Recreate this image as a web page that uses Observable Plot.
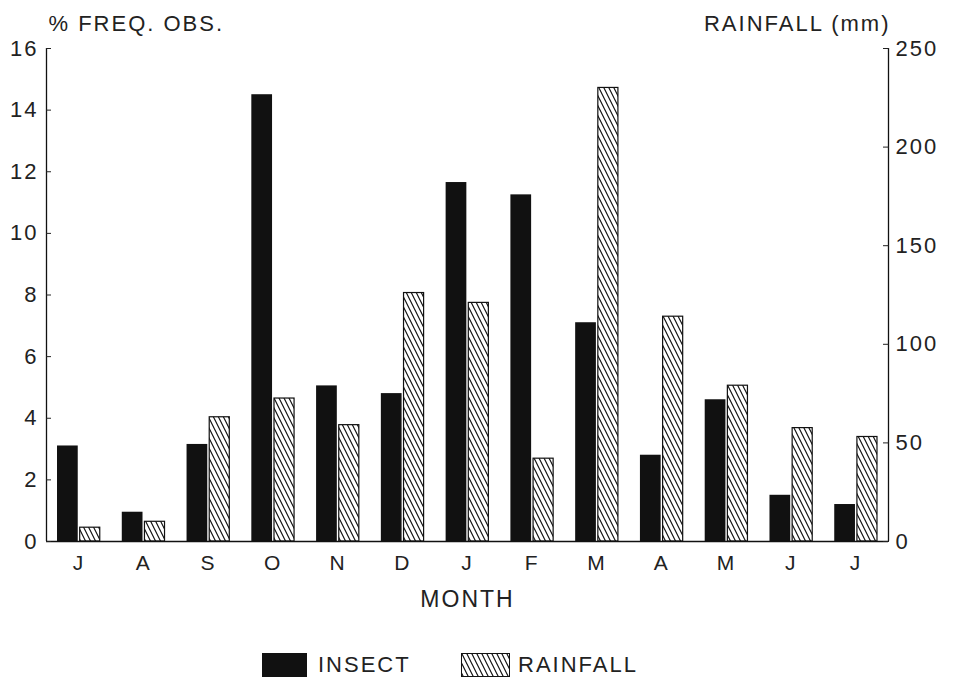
<!DOCTYPE html>
<html>
<head>
<meta charset="utf-8">
<script src="https://cdn.jsdelivr.net/npm/d3@7"></script>
<script src="https://cdn.jsdelivr.net/npm/@observablehq/plot@0.6"></script>
<style>
  html, body { margin: 0; padding: 0; background: #fff; }
  body { width: 953px; height: 686px; overflow: hidden; font-family: "Liberation Sans", Arial, sans-serif; color: #222; }
  #chart svg { display: block; }
  #legend { position: relative; height: 61px; }
  .sw { position: absolute; top: 28px; height: 24px; box-sizing: border-box; border: 1px solid #111; }
  .lt { position: absolute; top: 26px; font-size: 22px; letter-spacing: 2px; line-height: 28px; }
</style>
</head>
<body>
<svg width="0" height="0" style="position:absolute">
  <defs>
    <pattern id="hatch" patternUnits="userSpaceOnUse" width="5" height="10">
      <rect width="5" height="10" fill="#fff"></rect>
      <path d="M-2.5,-5 L7.5,15 M-7.5,-5 L2.5,15 M2.5,-5 L12.5,15" stroke="#111" stroke-width="1.2"></path>
    </pattern>
  </defs>
</svg>
<div id="chart"></div>
<div id="legend">
  <div class="sw" style="left:262px;width:45px;background:#111;"></div>
  <div class="lt" style="left:318px;">INSECT</div>
  <div class="sw" style="left:461px;width:49px;background:url('data:image/svg+xml;utf8,<svg xmlns=%22http://www.w3.org/2000/svg%22 width=%225%22 height=%2210%22><path d=%22M-2.5,-5 L7.5,15 M-7.5,-5 L2.5,15 M2.5,-5 L12.5,15%22 stroke=%22%23111%22 stroke-width=%221.2%22/></svg>');"></div>
  <div class="lt" style="left:518px;">RAINFALL</div>
</div>
<script>
const months = ["J","A","S","O","N","D","J","F","M","A","M","J","J"];
const insect = [3.1, 0.95, 3.15, 14.5, 5.05, 4.8, 11.65, 11.25, 7.1, 2.8, 4.6, 1.5, 1.2];
const rainfall = [7, 10, 63, 72.5, 59, 126, 121, 42, 230, 114, 79, 57.5, 53];
const freqTicks = [0, 2, 4, 6, 8, 10, 12, 14, 16];
const rainTicks = [0, 50, 100, 150, 200, 250];
const freqMax = 16, rainMax = 250;

const toFreq = mm => mm * freqMax / rainMax;
const data = months.map((m, i) => ({i, m, insect: insect[i], rain: toFreq(rainfall[i])}));
const xDomain = [-0.5, months.length - 0.5];

const font = "Liberation Sans, Arial, sans-serif";

const chart = Plot.plot({
  width: 953,
  height: 625,
  marginLeft: 46,
  marginRight: 65,
  marginTop: 48,
  marginBottom: 84,
  style: {fontFamily: font, fontSize: "22px", color: "#222", background: "#fff", overflow: "visible"},
  x: {type: "linear", domain: xDomain},
  y: {domain: [0, freqMax]},
  marks: [
    Plot.rectY(data, {x1: d => d.i - 0.33, x2: d => d.i - 0.01, y: "insect", fill: "#111"}),
    Plot.rectY(data, {x1: d => d.i + 0.02, x2: d => d.i + 0.33, y: "rain", fill: "url(#hatch)", stroke: "#111", strokeWidth: 1.2}),
    Plot.ruleY([0], {stroke: "#111", strokeWidth: 1.3}),
    Plot.ruleX([xDomain[0]], {y1: 0, y2: freqMax, stroke: "#111", strokeWidth: 1.3}),
    Plot.ruleX([xDomain[1]], {y1: 0, y2: freqMax, stroke: "#111", strokeWidth: 1.3}),
    Plot.axisY(freqTicks, {anchor: "left", tickSize: -5, tickPadding: 13, fontSize: 22, label: null}),
    Plot.axisY(rainTicks.map(toFreq), {anchor: "right", tickSize: -6, tickPadding: 13, tickFormat: v => Math.round(v * rainMax / freqMax), fontSize: 22, label: null}),
    Plot.axisX(d3.range(months.length), {anchor: "bottom", tickSize: 0, tickPadding: 14, tickFormat: i => months[i], fontSize: 21, label: null}),
    Plot.text(["% FREQ. OBS."], {frameAnchor: "top-left", dx: 2, dy: -33, textAnchor: "start", fontSize: 22, fill: "#222"}),
    Plot.text(["RAINFALL (mm)"], {frameAnchor: "top-right", dx: 2, dy: -33, textAnchor: "end", fontSize: 22, fill: "#222"}),
    Plot.text(["MONTH"], {frameAnchor: "bottom", dy: 65, fontSize: 23, fill: "#222"})
  ]
});
chart.querySelectorAll("text").forEach(t => { t.style.letterSpacing = "2px"; });
document.getElementById("chart").appendChild(chart);
</script>
</body>
</html>
